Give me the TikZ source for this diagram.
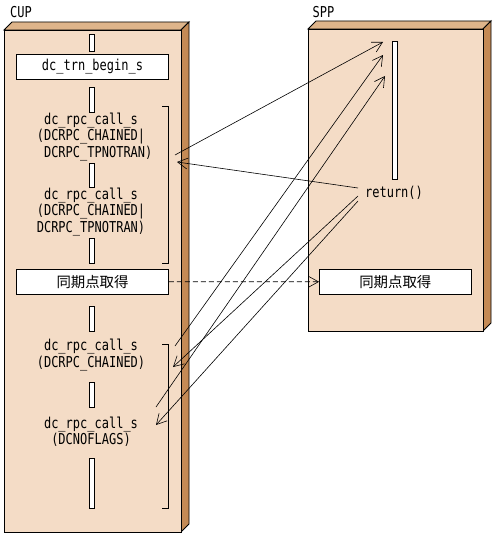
\documentclass[tikz,border=0pt]{standalone}
\usepackage{fontspec}
\newfontfamily\gothic[FakeStretch=0.8]{DejaVu Sans Mono}
\newfontfamily\jpfont{Noto Sans CJK JP}
\usepackage{tikz}
\usetikzlibrary{arrows.meta}
\definecolor{frontcol}{HTML}{F4DCC6}
\definecolor{topcol}{HTML}{DEB48A}
\definecolor{sidecol}{HTML}{C48A55}
\tikzstyle{front face}=[draw, line width=0.9pt, fill=frontcol]
\tikzstyle{top face}=[draw, line width=0.9pt, fill=topcol]
\tikzstyle{side face}=[draw, line width=0.9pt, fill=sidecol]
\tikzstyle{bar}=[draw, fill=white, line width=0.9pt, inner sep=0pt, minimum width=5.4pt]
\tikzstyle{call box}=[draw, fill=white, line width=0.9pt, inner sep=0pt, minimum width=151.6pt, minimum height=25pt]
\tikzstyle{code}=[align=center, inner sep=0pt, font=\gothic\fontsize{15}{16.5}\selectfont]
\tikzstyle{kanji}=[inner sep=0pt, font=\jpfont\fontsize{14.4}{16}\selectfont]
\tikzstyle{msg}=[draw, line width=0.6pt, -{Straight Barb[length=10pt,width=11pt]}]

\begin{document}
\begin{tikzpicture}[x=1pt, y=-1pt]
	\useasboundingbox (0,0) rectangle (494,537);

	% First we draw the two process boxes
	\foreach \x/\y/\w/\h in {4/30/177/502, 308/29/175/302}{
		\path[top face] (\x,\y) -- (\x+8,\y-8) -- (\x+\w+8,\y-8) -- (\x+\w,\y) -- cycle;
		\path[side face] (\x+\w,\y) -- (\x+\w+8,\y-8) -- (\x+\w+8,\y+\h-8) -- (\x+\w,\y+\h) -- cycle;
		\path[front face] (\x,\y) rectangle (\x+\w,\y+\h);
	}
	\node[code] (cup) at (21,12) {CUP};
	\node[code] (spp) at (323.5,12) {SPP};

	% activation bars
	\foreach \pos/\label/\len in {
		{(92,43)/b1/17.4},
		{(92,99.8)/b2/25},
		{(92,175.5)/b3/24.4},
		{(92,250.8)/b4/25},
		{(92,318.5)/b5/25},
		{(92,394.8)/b6/25},
		{(92,483.3)/b7/50},
		{(394.8,110.8)/s1/138.3}}
	\node[bar, minimum height=\len pt] (\label) at \pos{};

	% calls
	\node[call box, code] (trn) at (92.5,66.8) {dc\_trn\_begin\_s};
	\node[code] (call1) at (91,137) {dc\_rpc\_call\_s\\(DCRPC\_CHAINED|\\\phantom{xx}DCRPC\_TPNOTRAN)};
	\node[code] (call2) at (91,212) {dc\_rpc\_call\_s\\(DCRPC\_CHAINED|\\DCRPC\_TPNOTRAN)};
	\node[call box, kanji] (sync) at (92.5,281.7) {同期点取得};
	\node[code] (call3) at (91,355) {dc\_rpc\_call\_s\\(DCRPC\_CHAINED)};
	\node[code] (call4) at (91,431.7) {dc\_rpc\_call\_s\\(DCNOFLAGS)};
	\node[code] (ret) at (394,192.3) {return()};
	\node[call box, kanji] (spsync) at (395.3,281.8) {同期点取得};

	% brackets
	\draw[line width=0.9pt] (162,106) -| (168,263) -- (162,263);
	\draw[line width=0.9pt] (162,344) -| (168,508) -- (162,508);

	% message ends
	\foreach \pos/\name in {
		{(175,155)/c1}, {(383,42)/s1a},
		{(358,188)/r1}, {(177,162)/c1r},
		{(175,346)/c3}, {(383,55)/s1b},
		{(156,407)/c4}, {(385,76)/s1c},
		{(358,196)/r3}, {(173,367)/c3r},
		{(358,201)/r4}, {(156,425)/c4r}}
	\path \pos coordinate (\name);

	% Connect calls and returns
	\foreach \source/\dest in {
		c1/s1a,
		r1/c1r,
		c3/s1b,
		c4/s1c,
		r3/c3r,
		r4/c4r}
	\path[msg] (\source) -- (\dest);
	\path[msg, dash pattern=on 5pt off 3pt] (sync) -- (spsync);

\end{tikzpicture}
\end{document}
